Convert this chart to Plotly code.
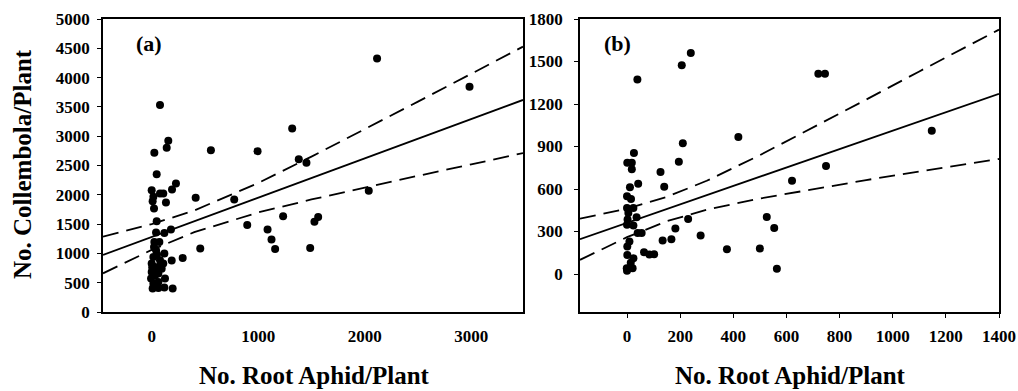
import plotly.graph_objects as go

# ---------------- Panel (a) data ----------------
a_aphid = [78, 25, 156, 141, 47, 556, 994, 1319, 1381, 1453, 2116, 2984, 2038, 1563, 1528,
           1234, 897, 1088, 1125, 1159, 1488, 775, 413, 456, 291, 228, 191, 0, 16, 9, 22,
           78, 109, 134, 47, 41, 119, 181, 25, 72, 41, 119, 0, 31, 109, 188, -6, 63, 125,
           9, 63, 119, 197, 16, 78, 47, 0, 94, 22, 63, 16, 5, 30, 85, 50]
a_collembola = [3531, 2716, 2921, 2802, 2352, 2762, 2745, 3132, 2608, 2546, 4328, 3844, 2067, 1623, 1538,
                1634, 1486, 1407, 1236, 1076, 1093, 1919, 1948, 1082, 923, 2193, 2090, 2079, 1965, 1891, 1765,
                2022, 2022, 1868, 1549, 1355, 1350, 1407, 1196, 1196, 1054, 997, 826, 769, 826, 877, 570, 655, 570,
                399, 410, 416, 399, 940, 883, 712, 683, 740, 1110, 513, 484, 760, 620, 800, 980]

a_line_x = [-457, 0, 400, 1000, 1500, 2000, 2500, 3000, 3486]
a_fit = [973, 1279, 1547, 1950, 2286, 2621, 2957, 3292, 3618]
a_upper = [1285, 1499, 1732, 2201, 2652, 3117, 3590, 4065, 4528]
a_lower = [660, 1059, 1362, 1699, 1920, 2125, 2324, 2519, 2712]

a_xticks = [0, 1000, 2000, 3000]
a_yticks = list(range(0, 5001, 500))

# ---------------- Panel (b) data ----------------
b_aphid = [39, 206, 240, 720, 745, 419, 210, 195, 126, 140, 42, 26, 1, 18, 18, 11, 0, 15, 0, 24,
           5, 36, 0, 24, 2, 40, 55, 9, 1, 1, 24, 14, 21, -1, 0, 64, 84, 102, 134, 167, 182, 230,
           277, 376, 500, 526, 554, 564, 621, 749, 1147]
b_collembola = [1373, 1473, 1560, 1414, 1414, 968, 923, 793, 720, 616, 637, 855, 786, 786, 739, 613, 549, 530, 466, 466,
                431, 400, 348, 343, 384, 289, 289, 230, 194, 135, 111, 80, 40, 40, 24, 154, 137, 140, 237, 246, 322, 388,
                272, 175, 180, 403, 324, 38, 658, 762, 1011]

b_line_x = [-177, 0, 150, 300, 500, 700, 900, 1100, 1400]
b_fit = [246, 361, 459, 556, 686, 816, 947, 1077, 1272]
b_upper = [391, 462, 545, 658, 839, 1032, 1231, 1430, 1725]
b_lower = [100, 260, 373, 454, 533, 600, 663, 724, 812]

b_xticks = list(range(0, 1401, 200))
b_yticks = list(range(0, 1801, 300))

# ---------------- Figure ----------------
SERIF = "Liberation Serif, Times New Roman, serif"
fig = go.Figure()

def add_panel(xs, ys, lx, fit, up, lo, xa, ya):
    fig.add_trace(go.Scatter(x=lx, y=up, mode="lines", xaxis=xa, yaxis=ya,
                             line=dict(color="black", width=1.8, dash="16px,8px"), showlegend=False))
    fig.add_trace(go.Scatter(x=lx, y=lo, mode="lines", xaxis=xa, yaxis=ya,
                             line=dict(color="black", width=1.8, dash="16px,8px"), showlegend=False))
    fig.add_trace(go.Scatter(x=lx, y=fit, mode="lines", xaxis=xa, yaxis=ya,
                             line=dict(color="black", width=1.9), showlegend=False))
    fig.add_trace(go.Scatter(x=xs, y=ys, mode="markers", xaxis=xa, yaxis=ya,
                             marker=dict(color="black", size=8, line=dict(width=0)), showlegend=False))

add_panel(a_aphid, a_collembola, a_line_x, a_fit, a_upper, a_lower, "x", "y")
add_panel(b_aphid, b_collembola, b_line_x, b_fit, b_upper, b_lower, "x2", "y2")

tickfont = dict(family=SERIF, size=17, color="black", weight="bold")
ydom = [1 - 312 / 391, 1 - 19 / 391]
common = dict(showgrid=False, zeroline=False, showline=True, linecolor="black", linewidth=1.5,
              mirror=True, automargin=False, tickfont=tickfont, tickcolor="black")

fig.update_layout(
    width=1018, height=391,
    margin=dict(l=0, r=0, t=0, b=0),
    paper_bgcolor="white", plot_bgcolor="white",
    xaxis=dict(domain=[103 / 1018, 523 / 1018], range=[-457, 3486], tickvals=a_xticks,
               ticks="", ticklabelstandoff=8, anchor="y", **common),
    yaxis=dict(domain=ydom, range=[0, 5000], tickvals=a_yticks, ticks="outside", ticklen=4,
               ticklabelstandoff=4, anchor="x", **common),
    xaxis2=dict(domain=[580 / 1018, 999 / 1018], range=[-177, 1400], tickvals=b_xticks,
                ticks="outside", ticklen=4, ticklabelstandoff=4, anchor="y2", **common),
    yaxis2=dict(domain=ydom, range=[-268, 1800], tickvals=b_yticks, ticks="outside", ticklen=4,
                ticklabelstandoff=8, anchor="x2", **common),
)

titlefont = dict(family=SERIF, size=25, color="black", weight="bold")
fig.add_annotation(text="No. Collembola/Plant", xref="paper", yref="paper", x=22 / 1018, y=1 - 164 / 391,
                   textangle=-90, showarrow=False, font=titlefont, xanchor="center", yanchor="middle")
fig.add_annotation(text="No. Root Aphid/Plant", xref="paper", yref="paper", x=314 / 1018, y=1 - 375 / 391,
                   showarrow=False, font=titlefont, xanchor="center", yanchor="middle")
fig.add_annotation(text="No. Root Aphid/Plant", xref="paper", yref="paper", x=790 / 1018, y=1 - 375 / 391,
                   showarrow=False, font=titlefont, xanchor="center", yanchor="middle")

panelfont = dict(family=SERIF, size=22, color="black", weight="bold")
fig.add_annotation(text="(a)", xref="paper", yref="paper", x=149 / 1018, y=1 - 43 / 391,
                   showarrow=False, font=panelfont, xanchor="center", yanchor="middle")
fig.add_annotation(text="(b)", xref="paper", yref="paper", x=617 / 1018, y=1 - 44 / 391,
                   showarrow=False, font=panelfont, xanchor="center", yanchor="middle")

fig.write_html("out.html")
